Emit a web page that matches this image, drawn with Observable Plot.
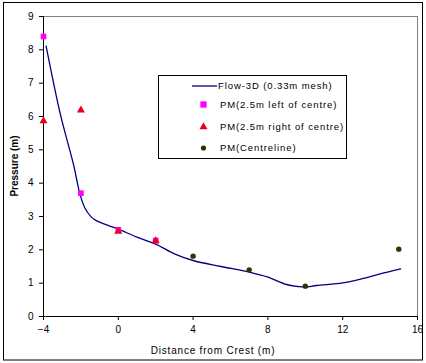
<!DOCTYPE html>
<html><head><meta charset="utf-8">
<script src="https://cdn.jsdelivr.net/npm/d3@7"></script>
<script src="https://cdn.jsdelivr.net/npm/@observablehq/plot@0.6"></script>
<style>
body{margin:0;background:#fff;}
#chart{position:relative;width:426px;height:363px;}
svg{font-family:"Liberation Sans",Arial,sans-serif;}
</style></head><body><div id="chart"></div>
<script>
const flowX = [-3.86,-3.1,-2.4,-2.05,-1.8,-1.5,-1.3,-1,-0.5,0,1,2,3,4,5.5,7,8,9,9.6,10,10.6,12,13,14,15.1];
const flowY = [8.11,6.07,4.57,3.67,3.27,3.02,2.92,2.83,2.72,2.62,2.38,2.17,1.88,1.68,1.5,1.33,1.18,0.96,0.9,0.88,0.93,1.01,1.13,1.28,1.43];
const leftX = [-4,-2,0,2];
const leftY = [8.4,3.7,2.6,2.28];
const rightX = [-4,-2,0,2];
const rightY = [5.87,6.19,2.55,2.27];
const centreX = [4,7,10,15];
const centreY = [1.81,1.4,0.91,2.02];
const xTicks = [-4,0,4,8,12,16];
const yTicks = [0,1,2,3,4,5,6,7,8,9];
const legendLabels = ["Flow-3D (0.33m mesh)","PM(2.5m left of centre)","PM(2.5m right of centre)","PM(Centreline)"];

const flow = flowX.map((x,i)=>({x,y:flowY[i]}));
const left = leftX.map((x,i)=>({x,y:leftY[i]}));
const right = rightX.map((x,i)=>({x,y:rightY[i]}));
const centre = centreX.map((x,i)=>({x,y:centreY[i]}));

const plot = Plot.plot({
  width:426, height:363,
  marginLeft:43, marginRight:9, marginTop:16, marginBottom:47,
  style:{fontFamily:"Liberation Sans, Arial, sans-serif", fontSize:"10px", background:"white", overflow:"visible"},
  x:{domain:[-4,16], ticks:xTicks, tickSize:4, tickPadding:5, label:null},
  y:{domain:[0,9], ticks:yTicks, tickSize:4, tickPadding:5, label:null},
  marks:[
    Plot.ruleY([9],{stroke:"#808080"}),
    Plot.ruleX([16],{stroke:"#808080"}),
    Plot.ruleX([-4],{stroke:"black"}),
    Plot.ruleY([0],{stroke:"black"}),
    Plot.axisX({ticks:xTicks, tickSize:4, tickPadding:5, label:null, fill:"black", fontSize:10}),
    Plot.axisY({ticks:yTicks, tickSize:4, tickPadding:6, label:null, fill:"black", fontSize:10}),
    Plot.line(flow,{x:"x",y:"y",stroke:"#000080",strokeWidth:1.3,curve:"catmull-rom"}),
    Plot.dot(left,{x:"x",y:"y",symbol:"square",fill:"#ff00ff",r:3.2}),
    Plot.dot(right,{x:"x",y:"y",symbol:"triangle",fill:"#e8001c",r:3.0}),
    Plot.dot(centre,{x:"x",y:"y",symbol:"circle",fill:"#333300",r:2.7})
  ]
});
document.getElementById("chart").appendChild(plot);
const svg = d3.select(plot);
// figure frame
svg.append("rect").attr("x",3.5).attr("y",2.5).attr("width",419).attr("height",357.5)
  .attr("fill","none").attr("stroke","black").attr("stroke-width",1);
// axis titles
svg.append("text").attr("x",213).attr("y",354).attr("text-anchor","middle")
  .attr("font-size",10).attr("letter-spacing","0.8px").attr("fill","black").text("Distance from Crest (m)");
svg.append("text").attr("transform","translate(18,166) rotate(-90)").attr("text-anchor","middle")
  .attr("font-size",10).attr("font-weight","bold").attr("fill","black").text("Pressure (m)");
// legend
const lg = svg.append("g");
lg.append("rect").attr("x",158.5).attr("y",75.5).attr("width",188).attr("height",83)
  .attr("fill","white").attr("stroke","black");
const rowsY=[86,104.5,127,148];
lg.append("line").attr("x1",192).attr("x2",217).attr("y1",rowsY[0]).attr("y2",rowsY[0]).attr("stroke","#000080").attr("stroke-width",1.3);
lg.append("path").attr("d",d3.symbol(d3.symbolSquare,40)()).attr("transform",`translate(203.5,${rowsY[1]})`).attr("fill","#ff00ff");
lg.append("path").attr("d",d3.symbol(d3.symbolTriangle,28)()).attr("transform",`translate(203.5,${rowsY[2]})`).attr("fill","#e8001c");
lg.append("circle").attr("cx",203.5).attr("cy",rowsY[3]).attr("r",2.6).attr("fill","#333300");
legendLabels.forEach((t,i)=>{
  lg.append("text").attr("x",i===0?218:220).attr("y",rowsY[i]).attr("dy","0.35em").attr("font-size",9.5)
    .attr("text-anchor","start").attr("letter-spacing","0.9px").attr("fill","black").text(t);
});
</script></body></html>
